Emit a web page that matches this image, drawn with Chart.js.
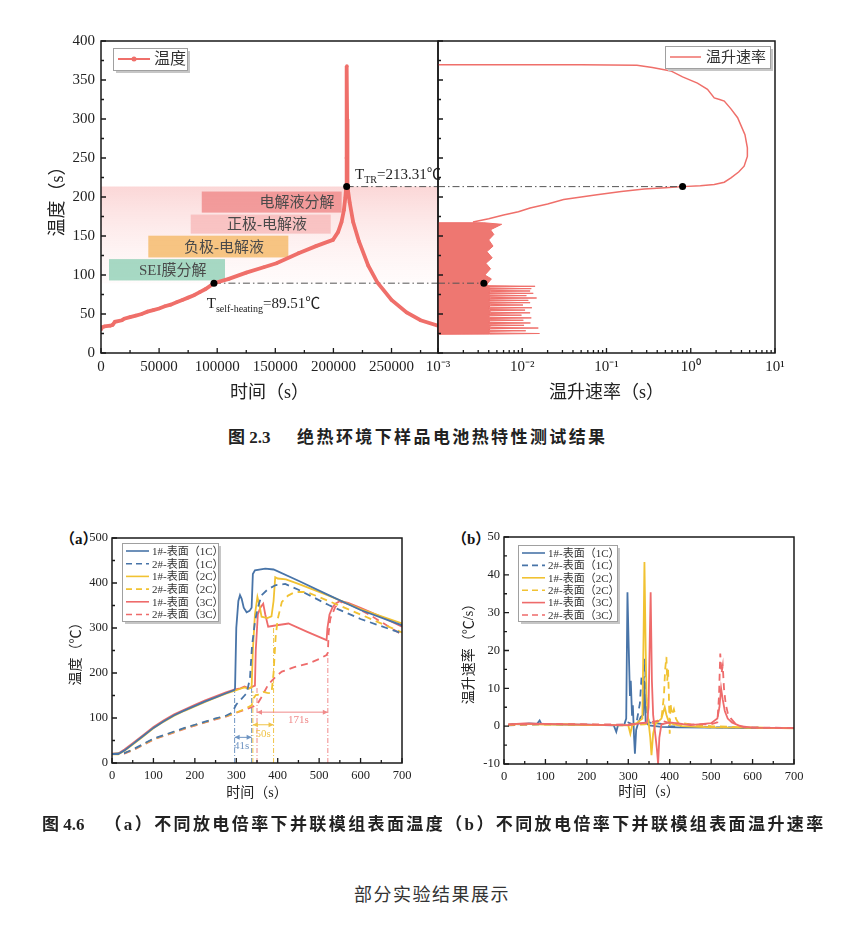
<!DOCTYPE html>
<html>
<head>
<meta charset="utf-8">
<script src="https://cdn.jsdelivr.net/npm/chart.js@4.4.1/dist/chart.umd.min.js"></script>
<style>
  body { margin: 0; background: #fff; width: 845px; height: 929px; position: relative; overflow: hidden; }
  .box { position: absolute; }
  .cap { position: absolute; white-space: nowrap; color: #222; font-weight: bold; font-size: 17px; letter-spacing: 2.4px;
         font-family: "Liberation Serif", "Noto Sans CJK SC", serif; }
  .cap .n { letter-spacing: 0; }
  .tag { position: absolute; font-weight: bold; font-size: 15px; font-family: "Liberation Serif", "Noto Sans CJK SC", serif; color: #111; }
  .note { position: absolute; font-size: 18px; color: #333; letter-spacing: 1.5px; font-family: "Noto Sans CJK SC", sans-serif; }
</style>
</head>
<body>
<div class="box" style="left:0;top:26px;width:440px;height:389px"><canvas id="tempChart"></canvas></div>
<div class="box" style="left:400px;top:30px;width:420px;height:385px"><canvas id="rateChart"></canvas></div>
<div class="cap" style="left:228px;top:423px"><span class="n">图 2.3</span>&nbsp;&nbsp;&nbsp;&nbsp;绝热环境下样品电池热特性测试结果</div>

<div class="tag" style="left:60px;top:527px">（a）</div>
<div class="tag" style="left:452px;top:527px">（b）</div>
<div class="box" style="left:40px;top:520px;width:390px;height:300px"><canvas id="moduleTemp"></canvas></div>
<div class="box" style="left:440px;top:520px;width:390px;height:300px"><canvas id="moduleRate"></canvas></div>
<div class="cap" style="left:42px;top:810px"><span class="n">图 4.6</span>&nbsp;&nbsp;&nbsp;（a）不同放电倍率下并联模组表面温度（b）不同放电倍率下并联模组表面温升速率</div>
<div class="note" style="left:354px;top:880px">部分实验结果展示</div>

<script>
// ---- Fig 2.3 data ----
const TEMP_TIME = [0, 1000, 3000, 8000, 10000, 12000, 18000, 20000, 25000, 30000, 35000, 40000, 45000, 50000, 55000, 60000, 65000, 70000, 75000, 80000, 85000, 90000, 97200, 110000, 125000, 140000, 151000, 170000, 185000, 199600, 204000, 207000, 209000, 210300, 211000, 211200, 211400, 211600, 211800, 212100, 214000, 217000, 222000, 230000, 238000, 250000, 263000, 275000, 290000];
const TEMP_VAL  = [30, 33, 34, 35, 36, 40, 42, 44, 46, 48, 50, 53, 55, 57, 60, 62, 65, 68, 71, 74, 78, 82, 89.5, 95, 103, 110, 115, 128, 137, 145, 155, 168, 183, 200, 213, 250, 300, 368, 300, 213, 193, 168, 143, 112, 90, 68, 52, 42, 35];
const SELF_HEAT_TIME = 97200, SELF_HEAT_T = 89.51, SELF_HEAT_RATE = 0.0035;
const TR_TIME = 211400, TR_T = 213.31, TR_RATE = 0.8;
const TIME_TICKS = [0, 50000, 100000, 150000, 200000, 250000];
const TIME_LABELS = ['0', '50000', '100000', '150000', '200000', '250000'];

const ZONE_NAMES = ['电解液分解', '正极-电解液', '负极-电解液', 'SEI膜分解'];
const ZONE_START = [86700, 77200, 40700, 6900];
const ZONE_END   = [207100, 197700, 161200, 106700];
const ZONE_LOW   = [180, 153, 122.5, 93];
const ZONE_HIGH  = [207, 177.4, 150.4, 120.4];
const ZONE_TEXT_X = [168700, 142900, 105800, 61700];

// rate vs temperature (right panel): noisy low-temperature band, then the smooth loop
const NOISE_RATE = [0.001, 0.0041, 0.016, 0.0041, 0.0040, 0.011, 0.0040, 0.0042, 0.0155, 0.0042, 0.0041, 0.0105, 0.0041,
  0.0040, 0.0125, 0.0040, 0.0042, 0.0103, 0.0042, 0.0041, 0.0128, 0.0041, 0.0040, 0.0098, 0.0040, 0.0042, 0.0124, 0.0042,
  0.0041, 0.0108, 0.0041, 0.0040, 0.013, 0.0040, 0.0042, 0.0102, 0.0042, 0.0041, 0.0124, 0.0041, 0.0040, 0.0118, 0.0040,
  0.0042, 0.0148, 0.0042, 0.0041, 0.0112, 0.0041, 0.0040, 0.0135, 0.0040, 0.0042, 0.0124, 0.0042, 0.0041, 0.0128, 0.0041,
  0.0040, 0.0142, 0.0040, 0.0038, 0.0043, 0.0036, 0.0042, 0.0037, 0.0044, 0.0038, 0.0045, 0.0040, 0.0046, 0.0042, 0.0050,
  0.0057, 0.0035, 0.001];
const NOISE_T = [24, 24.2, 25, 25.8, 27.7, 28.5, 29.3, 31.2, 32, 32.8, 34.7, 35.5, 36.3,
  37.7, 38.5, 39.3, 41.2, 42, 42.8, 44.2, 45, 45.8, 47.7, 48.5, 49.3, 50.7, 51.5, 52.3,
  54.2, 55, 55.8, 57.2, 58, 58.8, 60.7, 61.5, 62.3, 63.7, 64.5, 65.3, 66.7, 67.5, 68.3,
  69.7, 70.5, 71.3, 72.7, 73.5, 74.3, 75.7, 76.5, 77.3, 78.7, 79.5, 80.3, 81.7, 82.5, 83.3,
  84.7, 85.5, 86.3, 88, 95, 100, 108, 115, 122, 130, 137, 145, 152, 158, 162,
  165, 167, 167];
const CURVE_RATE = [0.0026, 0.004, 0.006, 0.009, 0.0124, 0.02, 0.031, 0.05, 0.077, 0.15, 0.28, 0.5, 0.8, 1.3, 1.9, 2.5, 3.0, 3.7, 4.3, 4.7, 4.7, 4.4, 3.6, 3.0, 2.5, 2.2, 1.9, 1.58, 1.2, 0.8, 0.58, 0.35, 0.23, 0.05, 0.001];
const CURVE_T    = [168, 172, 177, 181, 186, 191, 196.7, 200, 203, 207, 210.2, 212, 213.3, 214.5, 216, 219, 224.5, 232, 239.5, 252, 263, 280, 301.6, 313, 323, 325, 327, 338, 346, 354, 361.6, 366, 369, 369.5, 369.5];
const RATE_TICKS = [0.001, 0.01, 0.1, 1, 10];
const RATE_LABELS = ['10⁻³', '10⁻²', '10⁻¹', '10⁰', '10¹'];

// ---- Fig 4.6 data ----
const SERIES_NAMES = ['1#-表面（1C）', '2#-表面（1C）', '1#-表面（2C）', '2#-表面（2C）', '1#-表面（3C）', '2#-表面（3C）'];

const A1_T = [0, 15, 30, 50, 75, 100, 125, 150, 175, 200, 225, 250, 275, 295, 297, 300, 305, 309, 313, 318, 325, 332, 337, 340, 345, 370, 390, 450, 523, 600, 700];
const A1_V = [20, 20, 28, 42, 60, 78, 93, 106, 117, 127, 137, 146, 155, 162, 166, 300, 360, 373, 365, 345, 335, 338, 345, 420, 428, 432, 430, 405, 373, 340, 306];
const A2_T = [0, 30, 50, 75, 100, 125, 150, 175, 200, 225, 250, 275, 290, 300, 310, 320, 325, 333, 338, 345, 352, 361, 375, 394, 418, 450, 523, 600, 700];
const A2_V = [20, 22, 30, 42, 54, 62, 70, 78, 85, 92, 99, 105, 112, 130, 140, 150, 155, 188, 260, 314, 345, 373, 385, 395, 398, 385, 351, 320, 288];
const A3_T = [0, 15, 30, 50, 75, 100, 125, 150, 175, 200, 225, 250, 275, 295, 310, 320, 330, 337, 340, 345, 351, 356, 361, 375, 385, 390, 394, 400, 420, 450, 523, 600, 700];
const A3_V = [19, 19, 27, 41, 59, 77, 92, 105, 116, 126, 136, 145, 154, 160, 165, 168, 165, 168, 250, 330, 369, 350, 325, 322, 326, 360, 413, 410, 408, 398, 372, 342, 310];
const A4_T = [0, 30, 50, 75, 100, 125, 150, 175, 200, 225, 250, 275, 300, 320, 337, 342, 347, 355, 365, 375, 385, 390, 395, 400, 410, 425, 442, 470, 523, 600, 700];
const A4_V = [20, 22, 29, 41, 53, 61, 69, 77, 84, 91, 98, 104, 112, 120, 128, 144, 151, 152, 158, 156, 155, 200, 280, 320, 358, 372, 380, 380, 360, 330, 290];
const A5_T = [0, 15, 30, 50, 75, 100, 125, 150, 175, 200, 225, 250, 275, 295, 310, 320, 330, 345, 347, 352, 358, 365, 370, 377, 390, 426, 470, 518, 520, 525, 532, 539, 551, 570, 600, 650, 700];
const A5_V = [21, 21, 30, 44, 62, 80, 95, 108, 119, 129, 139, 148, 157, 163, 166, 170, 166, 172, 250, 330, 345, 354, 330, 303, 305, 310, 292, 273, 300, 330, 345, 354, 360, 356, 345, 325, 303];
const A6_T = [0, 30, 50, 75, 100, 125, 150, 175, 200, 225, 250, 275, 300, 320, 340, 350, 360, 377, 395, 410, 440, 474, 500, 518, 521, 523, 527, 539, 555, 580, 620, 660, 700];
const A6_V = [20, 21, 28, 40, 52, 60, 68, 76, 83, 90, 97, 103, 112, 118, 125, 130, 145, 174, 192, 203, 213, 221, 231, 240, 245, 290, 321, 347, 358, 350, 330, 308, 285];

// onset markers and delays in (a)
const ONSET_T   = [296, 337, 340, 390, 350, 521];
const ONSET_TOP = [165, 190, 160, 300, 170, 240];
const ONSET_SER = [0, 0, 1, 1, 2, 2];
const DELAY_FROM = [296, 340, 350];
const DELAY_TO   = [337, 390, 521];
const DELAY_AT   = [57, 85, 113];
const DELAY_TEXT = ['41s', '50s', '171s'];
const DELAY_TEXT_X = [313, 365, 450];
const DELAY_TEXT_Y = [38, 64, 96];

const B1_T = [10, 20, 40, 60, 80, 86, 90, 120, 160, 200, 240, 265, 271, 275, 290, 295, 298, 301, 304, 306, 309, 311, 314, 316, 319, 323, 330, 336, 339, 342, 350, 380, 420, 500, 600, 700];
const B1_V = [0.3, 0.6, 0.5, 0.7, 0.6, 1.5, 0.6, 0.5, 0.4, 0.4, 0.3, 0.2, -1.5, 0.2, 0.3, 2, 35.4, 21, 8, 12, 3, 5.5, -3, -7.3, -1, 0.5, 2.4, 3, 12, 1, 0.2, -0.2, -0.3, -0.4, -0.5, -0.5];
const B2_T = [10, 50, 100, 150, 200, 250, 290, 300, 310, 320, 328, 332, 336, 340, 343, 346, 350, 360, 380, 400, 430, 500, 600, 700];
const B2_V = [0.2, 0.4, 0.5, 0.4, 0.3, 0.3, 0.4, 1, 0.5, 1, 6, 13, 10, 17.8, 8, 3, 1, 0.8, 0.6, 0, -0.2, -0.3, -0.4, -0.5];
const B3_T = [10, 50, 100, 150, 200, 250, 300, 305, 310, 320, 334, 337, 339, 342, 344, 347, 350, 353, 356, 360, 365, 380, 388, 392, 398, 410, 430, 500, 600, 700];
const B3_V = [0.4, 0.6, 0.4, 0.5, 0.3, 0.3, 0.2, -2, 0.5, 0.8, 2, 25, 43.4, 20, 8, 3, 0, -3, -7.7, -2, 0.5, 2, 5, 3, 1, 0.5, 0, -0.3, -0.4, -0.6];
const B4_T = [10, 100, 200, 300, 340, 360, 380, 386, 389, 392, 394, 396, 398, 400, 402, 405, 410, 415, 420, 450, 500, 600, 700];
const B4_V = [0.3, 0.5, 0.4, 0.2, 0.5, 0.8, 2, 8, 15, 18.3, 12, 15, 8, -2, 6, 3, 4.5, 2, 1, 0.5, 0, -0.4, -0.5];
const B5_T = [10, 50, 100, 150, 200, 250, 300, 320, 345, 349, 352, 354, 357, 360, 365, 369, 372, 375, 380, 400, 450, 500, 515, 520, 524, 528, 533, 540, 550, 570, 600, 700];
const B5_V = [0.5, 0.7, 0.6, 0.5, 0.4, 0.3, 0.3, 0.6, 1, 5, 24, 35.4, 12, 3, -2, -6, -10, -3, 0.5, 1, 0.3, 0.8, 2, 5, 10, 7, 4, 2, 1, 0, -0.4, -0.5];
const B6_T = [10, 100, 200, 300, 350, 380, 400, 450, 500, 515, 519, 522, 525, 528, 531, 535, 540, 548, 560, 580, 650, 700];
const B6_V = [0.4, 0.6, 0.5, 0.4, 1, 1.5, 0.8, 0.5, 0.5, 1, 8, 19.2, 14, 16, 10, 6, 3.5, 2, 0.5, -0.3, -0.4, -0.5];

// ---- helpers ----
const SERIF = '"Liberation Serif", "Noto Sans CJK SC", serif';
const CURVE = '#ef6f6a';
const BLUE = '#4874a8', YELLOW = '#f1c232', RED = '#ee6b6b';
const COLORS = [BLUE, YELLOW, RED];

const pts = (xs, ys) => xs.map((x, i) => ({ x, y: ys[i] }));

function axis(min, max, o) {
  const a = {
    type: o.type || 'linear', min, max, position: o.pos,
    grid: { display: false, drawTicks: false },
    border: { display: false },
    ticks: { display: o.showTicks !== false, padding: o.pad, color: '#222', maxRotation: 0, autoSkip: false,
             font: { family: SERIF, size: o.size } },
    title: { display: !!o.title, text: o.title, color: '#222', font: { family: SERIF, size: o.titleSize },
             padding: o.pos === 'left' ? { top: o.titlePad, bottom: 0 } : { top: 0, bottom: o.titlePad } },
    afterFit: o.pos === 'left' ? s => { s.width = o.fit; } : s => { s.height = o.fit; }
  };
  if (o.step) a.ticks.stepSize = o.step;
  if (o.ticks) a.afterBuildTicks = s => { s.ticks = o.ticks.map(v => ({ value: v })); };
  if (o.labels) a.ticks.callback = (v, i) => o.labels[i];
  return a;
}

function tickMarks(s) {
  const major = s.ticks.map(t => t.value);
  const out = major.map(v => [v, 5]);
  if (s.type === 'logarithmic') {
    major.forEach(v => { for (let k = 2; k < 10; k++) if (v * k < s.max) out.push([v * k, 3]); });
  } else {
    const step = major[1] - major[0];
    for (let v = major[0] - step / 2; v < s.max; v += step) if (v > s.min) out.push([v, 3]);
  }
  return out;
}

// frame box + inward ticks for every panel
Chart.register({
  id: 'frame',
  afterDatasetsDraw(chart) {
    const { ctx, chartArea: a } = chart;
    const xs = chart.scales.x, ys = chart.scales.y;
    ctx.save();
    ctx.strokeStyle = '#1a1a1a';
    ctx.lineWidth = 1.3;
    ctx.beginPath();
    tickMarks(xs).forEach(([v, len]) => { const p = xs.getPixelForValue(v); ctx.moveTo(p, a.bottom); ctx.lineTo(p, a.bottom - len); });
    tickMarks(ys).forEach(([v, len]) => { const p = ys.getPixelForValue(v); ctx.moveTo(a.left, p); ctx.lineTo(a.left + len, p); });
    ctx.stroke();
    ctx.lineWidth = 1.5;
    ctx.strokeRect(a.left, a.top, a.width, a.height);
    ctx.restore();
  }
});

function drawLegend(chart, o) {
  const { ctx, chartArea: a } = chart;
  const x = a.left + o.dx, y = a.top + o.dy;
  ctx.save();
  ctx.fillStyle = '#c6c6c6'; ctx.fillRect(x + 3, y + 3, o.w, o.h);
  ctx.fillStyle = '#fff'; ctx.fillRect(x, y, o.w, o.h);
  ctx.strokeStyle = '#a0a0a0'; ctx.lineWidth = 1; ctx.strokeRect(x + 0.5, y + 0.5, o.w, o.h);
  ctx.font = o.font; ctx.textBaseline = 'middle';
  o.items.forEach((it, i) => {
    const cy = y + o.top + i * o.row;
    ctx.strokeStyle = it.color; ctx.lineWidth = it.width; ctx.setLineDash(it.dash || []);
    ctx.beginPath(); ctx.moveTo(x + o.l0, cy); ctx.lineTo(x + o.l1, cy); ctx.stroke();
    ctx.setLineDash([]);
    if (it.dot) { ctx.fillStyle = it.color; ctx.beginPath(); ctx.arc(x + (o.l0 + o.l1) / 2, cy, 2.5, 0, Math.PI * 2); ctx.fill(); }
    ctx.fillStyle = '#333'; ctx.fillText(it.label, x + o.tx, cy + 1);
  });
  ctx.restore();
}

function subText(ctx, x, y, main, sub, rest) {
  ctx.font = '15px ' + SERIF; ctx.fillText(main, x, y);
  x += ctx.measureText(main).width;
  ctx.font = '10px ' + SERIF; ctx.fillText(sub, x, y + 4);
  x += ctx.measureText(sub).width;
  ctx.font = '15px ' + SERIF; ctx.fillText(rest, x, y);
}

const baseOpts = (pad) => ({
  responsive: true, maintainAspectRatio: false, animation: false,
  layout: { padding: pad, autoPadding: false },
  plugins: { legend: { display: false }, tooltip: { enabled: false } }
});

const dashDot = [7, 3, 1.5, 3];

// ---- top left: temperature vs time ----
const SHADE_INDEX = 4;
new Chart(document.getElementById('tempChart'), {
  type: 'line',
  data: {
    datasets: [
      { data: pts([SELF_HEAT_TIME, TR_TIME], [SELF_HEAT_T, TR_T]), showLine: false, pointRadius: 3.5, pointBackgroundColor: '#000', pointBorderWidth: 0 },
      { data: pts(TEMP_TIME, TEMP_VAL), borderColor: CURVE, backgroundColor: CURVE, borderWidth: 3.8, pointRadius: 1.8, pointBorderWidth: 0, tension: 0 },
      { data: pts([TR_TIME, 290000], [TR_T, TR_T]), borderColor: '#555', borderWidth: 1, borderDash: dashDot, pointRadius: 0 },
      { data: pts([SELF_HEAT_TIME, 290000], [SELF_HEAT_T, SELF_HEAT_T]), borderColor: '#555', borderWidth: 1, borderDash: dashDot, pointRadius: 0 },
      { data: pts([0, 290000], [TR_T, TR_T]), borderWidth: 0, pointRadius: 0, fill: { value: SELF_HEAT_T },
        backgroundColor: c => {
          const ch = c.chart;
          if (!ch.chartArea) return 'rgba(250,210,210,0.5)';
          const y = ch.scales.y;
          const g = ch.ctx.createLinearGradient(0, y.getPixelForValue(TR_T), 0, y.getPixelForValue(SELF_HEAT_T));
          g.addColorStop(0, 'rgba(250,205,205,0.8)');
          g.addColorStop(1, 'rgba(255,240,240,0.25)');
          return g;
        } }
    ]
  },
  options: Object.assign(baseOpts({ left: 0, right: 2, top: 11, bottom: 0 }), {
    scales: {
      x: axis(0, 290000, { pos: 'bottom', ticks: TIME_TICKS, labels: TIME_LABELS, size: 15, pad: 5, title: '时间（s）', titleSize: 18, titlePad: 11, fit: 62 }),
      y: axis(0, 400, { pos: 'left', step: 50, size: 15, pad: 6, title: '温度（s）', titleSize: 18, titlePad: 47, fit: 101 })
    }
  }),
  plugins: [{
    id: 'zones',
    afterDatasetDraw(chart, args) {
      if (args.index !== SHADE_INDEX) return;
      const { ctx } = chart, xs = chart.scales.x, ys = chart.scales.y;
      const fills = ['rgba(238,128,128,0.72)', 'rgba(246,178,178,0.7)', 'rgba(246,188,110,0.85)', 'rgba(150,210,186,0.85)'];
      ctx.save();
      ZONE_NAMES.forEach((name, i) => {
        const x0 = xs.getPixelForValue(ZONE_START[i]), x1 = xs.getPixelForValue(ZONE_END[i]);
        const y0 = ys.getPixelForValue(ZONE_HIGH[i]), y1 = ys.getPixelForValue(ZONE_LOW[i]);
        ctx.fillStyle = fills[i];
        ctx.fillRect(x0, y0, x1 - x0, y1 - y0);
        ctx.fillStyle = '#4a4a4a';
        ctx.font = '15px ' + SERIF; ctx.textAlign = 'center'; ctx.textBaseline = 'middle';
        ctx.fillText(name, xs.getPixelForValue(ZONE_TEXT_X[i]), (y0 + y1) / 2 + 1);
      });
      ctx.restore();
    },
    afterDraw(chart) {
      const { ctx } = chart, xs = chart.scales.x, ys = chart.scales.y;
      ctx.save();
      ctx.fillStyle = '#222'; ctx.textBaseline = 'alphabetic'; ctx.textAlign = 'left';
      subText(ctx, xs.getPixelForValue(218600), ys.getPixelForValue(223.6), 'T', 'TR', '=213.31℃');
      subText(ctx, xs.getPixelForValue(91000), ys.getPixelForValue(57.4), 'T', 'self-heating', '=89.51℃');
      ctx.restore();
      drawLegend(chart, { dx: 12, dy: 7, w: 74, h: 22, top: 11, row: 0, l0: 5, l1: 37, tx: 41, font: '16px ' + SERIF,
        items: [{ label: '温度', color: CURVE, width: 2, dot: true }] });
    }
  }]
});

// ---- top right: temperature vs heating rate ----
new Chart(document.getElementById('rateChart'), {
  type: 'line',
  data: {
    datasets: [
      { data: pts([SELF_HEAT_RATE, TR_RATE], [SELF_HEAT_T, TR_T]), showLine: false, pointRadius: 3.5, pointBackgroundColor: '#000', pointBorderWidth: 0 },
      { data: pts([0.001, TR_RATE], [TR_T, TR_T]), borderColor: '#555', borderWidth: 1, borderDash: dashDot, pointRadius: 0 },
      { data: pts([0.001, SELF_HEAT_RATE], [SELF_HEAT_T, SELF_HEAT_T]), borderColor: '#555', borderWidth: 1, borderDash: dashDot, pointRadius: 0 },
      { data: pts(CURVE_RATE, CURVE_T), borderColor: CURVE, borderWidth: 1.5, pointRadius: 0, tension: 0 },
      { data: pts(NOISE_RATE, NOISE_T), borderColor: CURVE, borderWidth: 1, pointRadius: 0, fill: 'shape', backgroundColor: 'rgba(236,104,98,0.9)', tension: 0 }
    ]
  },
  options: Object.assign(baseOpts({ left: 0, right: 45, top: 11, bottom: 0 }), {
    scales: {
      x: axis(0.001, 10, { type: 'logarithmic', pos: 'bottom', ticks: RATE_TICKS, labels: RATE_LABELS, size: 15, pad: 5, title: '温升速率（s）', titleSize: 18, titlePad: 11, fit: 62 }),
      y: axis(0, 400, { pos: 'left', step: 50, showTicks: false, fit: 38 })
    }
  }),
  plugins: [{
    id: 'rateLegend',
    afterDraw(chart) {
      drawLegend(chart, { dx: 227, dy: 5, w: 105, h: 22, top: 11, row: 0, l0: 5, l1: 36, tx: 41, font: '15px ' + SERIF,
        items: [{ label: '温升速率', color: CURVE, width: 1.5 }] });
    }
  }]
});

// ---- (a) module temperature ----
const moduleSeries = (tArr, vArr) => tArr.map((t, i) => ({
  data: pts(t, vArr[i]), borderColor: COLORS[i >> 1], borderWidth: 1.8, pointRadius: 0, tension: 0,
  borderDash: i % 2 ? [7, 5] : []
}));

function seriesLegend(chart, o) {
  drawLegend(chart, Object.assign(o, {
    font: '11px ' + SERIF,
    items: SERIES_NAMES.map((n, i) => ({ label: n, color: COLORS[i >> 1], width: 1.6, dash: i % 2 ? [6, 4] : [] }))
  }));
}

new Chart(document.getElementById('moduleTemp'), {
  type: 'line',
  data: { datasets: moduleSeries([A1_T, A2_T, A3_T, A4_T, A5_T, A6_T], [A1_V, A2_V, A3_V, A4_V, A5_V, A6_V]) },
  options: Object.assign(baseOpts({ left: 0, right: 28, top: 18, bottom: 0 }), {
    scales: {
      x: axis(0, 700, { pos: 'bottom', step: 100, size: 12.5, pad: 5, title: '时间（s）', titleSize: 14, titlePad: 18, fit: 57 }),
      y: axis(0, 500, { pos: 'left', step: 100, size: 12.5, pad: 4, title: '温度（℃）', titleSize: 14, titlePad: 28, fit: 72 })
    }
  }),
  plugins: [{
    id: 'delays',
    beforeDatasetsDraw(chart) {
      const { ctx } = chart, xs = chart.scales.x, ys = chart.scales.y;
      const soft = ['#6e94c2', '#f0c44a', '#f08a8a'];
      ctx.save();
      ctx.lineWidth = 1;
      ONSET_T.forEach((t, i) => {
        ctx.strokeStyle = soft[ONSET_SER[i]]; ctx.setLineDash([5, 2, 1, 2]);
        ctx.beginPath(); ctx.moveTo(xs.getPixelForValue(t), ys.getPixelForValue(0)); ctx.lineTo(xs.getPixelForValue(t), ys.getPixelForValue(ONSET_TOP[i])); ctx.stroke();
      });
      ctx.setLineDash([]);
      DELAY_FROM.forEach((f, i) => {
        const x0 = xs.getPixelForValue(f), x1 = xs.getPixelForValue(DELAY_TO[i]), y = ys.getPixelForValue(DELAY_AT[i]);
        ctx.strokeStyle = soft[i]; ctx.fillStyle = soft[i];
        ctx.beginPath(); ctx.moveTo(x0, y); ctx.lineTo(x1, y); ctx.stroke();
        [[x0, 1], [x1, -1]].forEach(([x, d]) => {
          ctx.beginPath(); ctx.moveTo(x, y); ctx.lineTo(x + 5 * d, y - 2.5); ctx.lineTo(x + 5 * d, y + 2.5); ctx.closePath(); ctx.fill();
        });
        ctx.font = '11px ' + SERIF; ctx.textAlign = 'center'; ctx.textBaseline = 'middle';
        ctx.fillText(DELAY_TEXT[i], xs.getPixelForValue(DELAY_TEXT_X[i]), ys.getPixelForValue(DELAY_TEXT_Y[i]));
      });
      ctx.restore();
    },
    afterDraw(chart) { seriesLegend(chart, { dx: 10, dy: 5, w: 96, h: 78, top: 8, row: 12.7, l0: 4, l1: 27, tx: 30 }); }
  }]
});

// ---- (b) module heating rate ----
new Chart(document.getElementById('moduleRate'), {
  type: 'line',
  data: { datasets: moduleSeries([B1_T, B2_T, B3_T, B4_T, B5_T, B6_T], [B1_V, B2_V, B3_V, B4_V, B5_V, B6_V]).reverse() },
  options: Object.assign(baseOpts({ left: 0, right: 36, top: 17, bottom: 0 }), {
    scales: {
      x: axis(0, 700, { pos: 'bottom', step: 100, size: 12.5, pad: 5, title: '时间（s）', titleSize: 14, titlePad: 19, fit: 56 }),
      y: axis(-10, 50, { pos: 'left', step: 10, size: 12.5, pad: 4, title: '温升速率（℃/s）', titleSize: 14, titlePad: 21, fit: 64 })
    }
  }),
  plugins: [{
    id: 'rateLegendB',
    afterDraw(chart) { seriesLegend(chart, { dx: 14, dy: 8, w: 99, h: 76, top: 8, row: 12.4, l0: 4, l1: 27, tx: 30 }); }
  }]
});
</script>
</body>
</html>
